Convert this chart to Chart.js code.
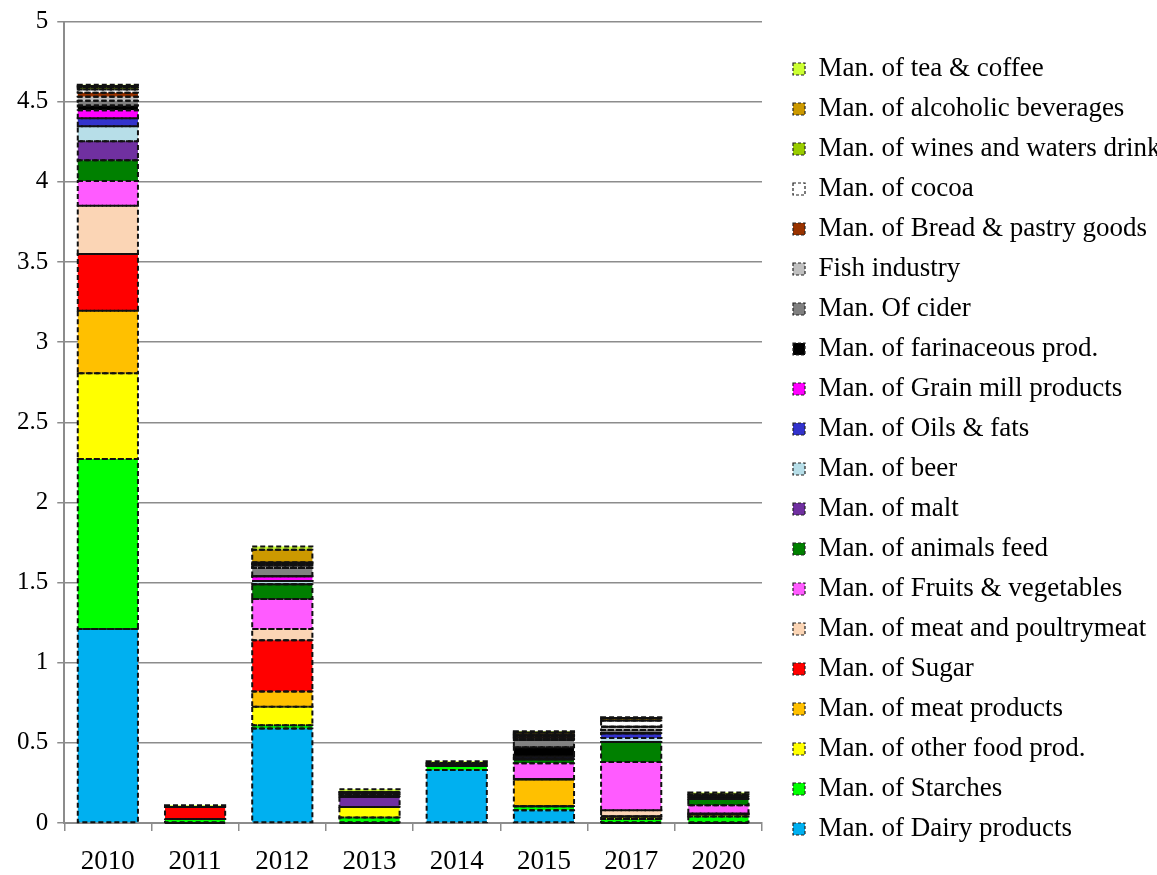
<!DOCTYPE html>
<html>
<head>
<meta charset="utf-8">
<script src="https://cdn.jsdelivr.net/npm/chart.js@4.4.1/dist/chart.umd.min.js"></script>
<style>
  html, body { margin: 0; padding: 0; background: #fff; overflow: hidden; }
  #wrap { position: absolute; left: 0; top: 0; }
</style>
</head>
<body>
<div id="wrap"><canvas id="chart" width="1157" height="892"></canvas></div>
<script>
// Years on the category axis
const years = ['2010', '2011', '2012', '2013', '2014', '2015', '2017', '2020'];

// Value-axis ticks
const yTicks = [0, 0.5, 1, 1.5, 2, 2.5, 3, 3.5, 4, 4.5, 5];

// One array per industry, stacked bottom to top in this order
const dairy        = [1.21,  0,     0.59,  0,     0.33,  0.08,  0,     0];
const starches     = [1.06,  0.025, 0.02,  0.035, 0.025, 0.025, 0.025, 0.04];
const otherFood    = [0.535, 0,     0.115, 0.065, 0,     0,     0.015, 0.015];
const meatProducts = [0.39,  0,     0.095, 0,     0,     0.168, 0,     0];
const sugar        = [0.355, 0.075, 0.32,  0,     0.01,  0,     0,     0];
const meatPoultry  = [0.30,  0,     0.07,  0,     0,     0,     0.04,  0.005];
const fruitsVeg    = [0.155, 0,     0.187, 0,     0,     0.10,  0.30,  0.05];
const animalsFeed  = [0.13,  0,     0.093, 0,     0,     0.025, 0.125, 0.04];
const malt         = [0.118, 0,     0,     0.065, 0,     0,     0,     0];
const beer         = [0.093, 0,     0.02,  0,     0,     0,     0.025, 0];
const oilsFats     = [0.05,  0,     0,     0,     0,     0.015, 0.03,  0];
const grainMill    = [0.05,  0,     0.03,  0,     0,     0,     0,     0];
const farinaceous  = [0.03,  0,     0,     0,     0,     0.06,  0,     0.015];
const cider        = [0.03,  0,     0.05,  0.015, 0,     0.045, 0.02,  0];
const fish         = [0.025, 0,     0.015, 0.01,  0,     0.01,  0.02,  0];
const bread        = [0.025, 0,     0.01,  0,     0,     0.01,  0,     0];
const cocoa        = [0.02,  0,     0.01,  0,     0,     0.01,  0.04,  0];
const wines        = [0.012, 0,     0,     0,     0,     0.005, 0,     0];
const alcoholic    = [0.01,  0,     0.08,  0,     0.01,  0.012, 0.015, 0.015];
const teaCoffee    = [0.008, 0.01,  0.02,  0.02,  0.01,  0.007, 0.005, 0.01];

const seriesNames = [
  'Man. of Dairy products', 'Man. of Starches', 'Man. of other food prod.',
  'Man. of meat products', 'Man. of Sugar', 'Man. of meat and poultrymeat',
  'Man. of Fruits & vegetables', 'Man. of animals feed', 'Man. of malt',
  'Man. of beer', 'Man. of Oils & fats', 'Man. of Grain mill products',
  'Man. of farinaceous prod.', 'Man. Of cider', 'Fish industry',
  'Man. of Bread & pastry goods', 'Man. of cocoa', 'Man. of wines and waters drinks',
  'Man. of alcoholic beverages', 'Man. of tea & coffee'
];
const seriesValues = [
  dairy, starches, otherFood, meatProducts, sugar, meatPoultry, fruitsVeg,
  animalsFeed, malt, beer, oilsFats, grainMill, farinaceous, cider, fish,
  bread, cocoa, wines, alcoholic, teaCoffee
];
const seriesColors = [
  '#00B0F0', '#00FF00', '#FFFF00', '#FFC000', '#FF0000', '#FBD5B5',
  '#FF5BFF', '#008000', '#7030A0', '#B7DEE8', '#3333CC', '#FF00FF',
  '#000000', '#808080', '#C0C0C0', '#993300', '#FFFFFF', '#99CC00',
  '#CC9900', '#CCFF33'
];

const datasets = seriesNames.map((name, i) => ({
  label: name,
  data: seriesValues[i],
  backgroundColor: seriesColors[i],
  borderWidth: 0
}));

// Dashed outline around every stacked segment, drawn on top of the fills
const dashedOutline = {
  id: 'dashedOutline',
  afterDatasetsDraw(chart) {
    const ctx = chart.ctx;
    ctx.save();
    ctx.lineWidth = 2;
    ctx.setLineDash([5, 3]);
    ctx.strokeStyle = '#111';
    chart.data.datasets.forEach((ds, i) => {
      const meta = chart.getDatasetMeta(i);
      meta.data.forEach(bar => {
        const p = bar.getProps(['x', 'y', 'base', 'width'], true);
        const left = p.x - p.width / 2;
        const top = Math.min(p.y, p.base);
        const h = Math.abs(p.base - p.y);
        ctx.strokeRect(left, top, p.width, h);
      });
    });
    ctx.restore();
  }
};

// The key sits in a fixed-width column that runs to the right edge
const LEGEND_WIDTH = 377;
const LEGEND_SHIFT = -3;
const legendColumn = {
  id: 'legendColumn',
  beforeLayout(chart) {
    const lg = chart.legend;
    if (lg && !lg._fixedWidth) {
      const fit = lg.fit.bind(lg);
      lg.fit = function () { fit(); this.width = LEGEND_WIDTH; };
      lg._fixedWidth = true;
    }
  },
  afterLayout(chart) {
    const lg = chart.legend;
    if (lg) { lg.top += LEGEND_SHIFT; lg.bottom += LEGEND_SHIFT; }
  }
};

const serif = 'Liberation Serif, Times New Roman, serif';
const gridGrey = '#8c8c8c';

new Chart(document.getElementById('chart'), {
  type: 'bar',
  data: { labels: years, datasets },
  plugins: [dashedOutline, legendColumn],
  options: {
    responsive: false,
    animation: false,
    layout: { padding: { top: 12, left: 8, bottom: 0, right: 0 } },
    plugins: {
      tooltip: { enabled: false },
      legend: {
        position: 'right',
        align: 'center',
        reverse: true,
        labels: {
          color: '#000',
          font: { family: serif, size: 27 },
          boxWidth: 12,
          boxHeight: 12,
          padding: 13,
          generateLabels(chart) {
            return chart.data.datasets.map((ds, i) => ({
              text: ds.label,
              fillStyle: ds.backgroundColor,
              strokeStyle: '#222',
              lineWidth: 1.2,
              lineDash: [3, 2],
              hidden: false,
              datasetIndex: i
            }));
          }
        }
      }
    },
    datasets: { bar: { categoryPercentage: 1, barPercentage: 0.69 } },
    scales: {
      x: {
        stacked: true,
        offset: true,
        grid: { display: true, drawOnChartArea: false, drawTicks: true, tickLength: 8, color: gridGrey, lineWidth: 1.5, offset: true },
        border: { display: true, color: gridGrey, width: 2 },
        ticks: { color: '#000', font: { family: serif, size: 27, lineHeight: 1 }, padding: 17 }
      },
      y: {
        stacked: true,
        min: 0,
        max: 5,
        afterBuildTicks(scale) { scale.ticks = yTicks.map(v => ({ value: v })); },
        grid: { color: gridGrey, lineWidth: 1.5, drawTicks: true, tickLength: 7 },
        border: { display: true, color: gridGrey, width: 2 },
        ticks: { color: '#000', font: { family: serif, size: 25, lineHeight: 1 }, padding: 9, callback: v => String(v) }
      },
      spacer: {
        position: 'right',
        display: true,
        grid: { display: false },
        border: { display: false },
        ticks: { display: false },
        afterFit(scale) { scale.width = 18; }
      }
    }
  }
});
</script>
</body>
</html>
